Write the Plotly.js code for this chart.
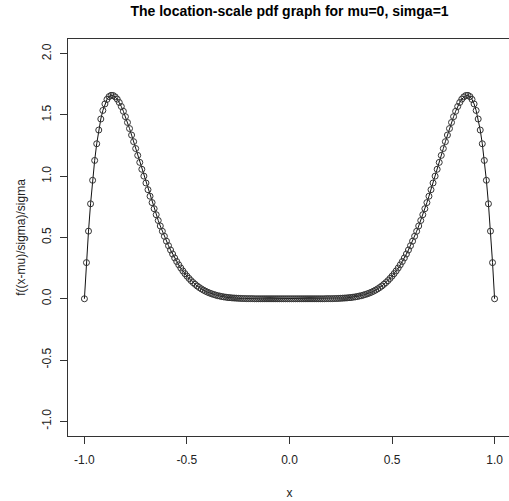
<!DOCTYPE html>
<html>
<head>
<meta charset="utf-8">
<script src="https://cdn.plot.ly/plotly-3.0.1.min.js"></script>
<style>
html,body{margin:0;padding:0;overflow:hidden;background:#fff;}
#chart{width:512px;height:501px;}
</style>
</head>
<body>
<div id="chart"></div>
<script>
var chartTitle = "The location-scale pdf graph for mu=0, simga=1";
var xLabel = "x";
var yLabel = "f((x-mu)/sigma)/sigma";
var xTicks = [-1.0, -0.5, 0.0, 0.5, 1.0];
var xTickText = ["-1.0", "-0.5", "0.0", "0.5", "1.0"];
var yTicks = [-1.0, -0.5, 0.0, 0.5, 1.0, 1.5, 2.0];
var yTickText = ["-1.0", "-0.5", "0.0", "0.5", "1.0", "1.5", "2.0"];

var xValues = [
-1.00,-0.99,-0.98,-0.97,-0.96,-0.95,-0.94,-0.93,-0.92,-0.91,
-0.90,-0.89,-0.88,-0.87,-0.86,-0.85,-0.84,-0.83,-0.82,-0.81,
-0.80,-0.79,-0.78,-0.77,-0.76,-0.75,-0.74,-0.73,-0.72,-0.71,
-0.70,-0.69,-0.68,-0.67,-0.66,-0.65,-0.64,-0.63,-0.62,-0.61,
-0.60,-0.59,-0.58,-0.57,-0.56,-0.55,-0.54,-0.53,-0.52,-0.51,
-0.50,-0.49,-0.48,-0.47,-0.46,-0.45,-0.44,-0.43,-0.42,-0.41,
-0.40,-0.39,-0.38,-0.37,-0.36,-0.35,-0.34,-0.33,-0.32,-0.31,
-0.30,-0.29,-0.28,-0.27,-0.26,-0.25,-0.24,-0.23,-0.22,-0.21,
-0.20,-0.19,-0.18,-0.17,-0.16,-0.15,-0.14,-0.13,-0.12,-0.11,
-0.10,-0.09,-0.08,-0.07,-0.06,-0.05,-0.04,-0.03,-0.02,-0.01,
0.00,0.01,0.02,0.03,0.04,0.05,0.06,0.07,0.08,0.09,
0.10,0.11,0.12,0.13,0.14,0.15,0.16,0.17,0.18,0.19,
0.20,0.21,0.22,0.23,0.24,0.25,0.26,0.27,0.28,0.29,
0.30,0.31,0.32,0.33,0.34,0.35,0.36,0.37,0.38,0.39,
0.40,0.41,0.42,0.43,0.44,0.45,0.46,0.47,0.48,0.49,
0.50,0.51,0.52,0.53,0.54,0.55,0.56,0.57,0.58,0.59,
0.60,0.61,0.62,0.63,0.64,0.65,0.66,0.67,0.68,0.69,
0.70,0.71,0.72,0.73,0.74,0.75,0.76,0.77,0.78,0.79,
0.80,0.81,0.82,0.83,0.84,0.85,0.86,0.87,0.88,0.89,
0.90,0.91,0.92,0.93,0.94,0.95,0.96,0.97,0.98,0.99,
1.00
];

var densityValues = [
0.000,0.295,0.552,0.775,0.967,1.129,1.265,1.377,1.467,1.537,
1.590,1.627,1.650,1.660,1.659,1.648,1.629,1.602,1.569,1.530,
1.486,1.439,1.389,1.336,1.282,1.226,1.170,1.113,1.057,1.001,
0.945,0.890,0.837,0.785,0.735,0.686,0.639,0.594,0.551,0.510,
0.470,0.433,0.398,0.365,0.333,0.304,0.277,0.251,0.227,0.205,
0.185,0.166,0.148,0.132,0.118,0.104,0.092,0.081,0.071,0.062,
0.054,0.047,0.041,0.035,0.030,0.025,0.022,0.018,0.015,0.013,
0.010,0.009,0.007,0.006,0.005,0.004,0.003,0.002,0.002,0.001,
0.001,0.001,0.001,0.000,0.000,0.000,0.000,0.000,0.000,0.000,
0.000,0.000,0.000,0.000,0.000,0.000,0.000,0.000,0.000,0.000,
0.000,0.000,0.000,0.000,0.000,0.000,0.000,0.000,0.000,0.000,
0.000,0.000,0.000,0.000,0.000,0.000,0.000,0.000,0.001,0.001,
0.001,0.001,0.002,0.002,0.003,0.004,0.005,0.006,0.007,0.009,
0.010,0.013,0.015,0.018,0.022,0.025,0.030,0.035,0.041,0.047,
0.054,0.062,0.071,0.081,0.092,0.104,0.118,0.132,0.148,0.166,
0.185,0.205,0.227,0.251,0.277,0.304,0.333,0.365,0.398,0.433,
0.470,0.510,0.551,0.594,0.639,0.686,0.735,0.785,0.837,0.890,
0.945,1.001,1.057,1.113,1.170,1.226,1.282,1.336,1.389,1.439,
1.486,1.530,1.569,1.602,1.629,1.648,1.659,1.660,1.650,1.627,
1.590,1.537,1.467,1.377,1.265,1.129,0.967,0.775,0.552,0.295,
0.000
];

var fontFam = "Liberation Sans, Arial, sans-serif";

var trace = {
  x: xValues,
  y: densityValues,
  type: "scatter",
  mode: "lines+markers",
  line: {color: "#111", width: 1},
  marker: {symbol: "circle-open", size: 6, color: "#333", line: {width: 1}},
  hoverinfo: "x+y",
  showlegend: false
};

var layout = {
  width: 512,
  height: 501,
  margin: {l: 68, r: 1, t: 39, b: 65, pad: 0},
  paper_bgcolor: "#fff",
  plot_bgcolor: "#fff",
  font: {family: fontFam, size: 12, color: "#000"},
  title: {
    text: "<b>" + chartTitle + "</b>",
    font: {family: fontFam, size: 14, color: "#000"},
    x: 0.5, xref: "paper", xanchor: "center",
    y: 0.978, yref: "container", yanchor: "middle"
  },
  xaxis: {
    range: [-1.08, 1.08],
    tickmode: "array",
    tickvals: xTicks,
    ticktext: xTickText,
    ticks: "outside",
    ticklen: 7,
    tickwidth: 1,
    tickcolor: "#333",
    ticklabelstandoff: 6,
    showline: true,
    mirror: true,
    linecolor: "#333",
    linewidth: 1,
    showgrid: false,
    zeroline: false,
    tickfont: {family: fontFam, size: 12, color: "#222"},
    title: {text: xLabel, font: {family: fontFam, size: 12, color: "#222"}, standoff: 22}
  },
  yaxis: {
    range: [-1.12, 2.12],
    tickmode: "array",
    tickvals: yTicks,
    ticktext: yTickText,
    tickangle: -90,
    ticks: "outside",
    ticklen: 7,
    tickwidth: 1,
    tickcolor: "#333",
    ticklabelstandoff: 4,
    showline: true,
    mirror: true,
    linecolor: "#333",
    linewidth: 1,
    showgrid: false,
    zeroline: false,
    automargin: true,
    tickfont: {family: fontFam, size: 12, color: "#222"},
    title: {text: yLabel, font: {family: fontFam, size: 12, color: "#222"}, standoff: 12}
  }
};

Plotly.newPlot("chart", [trace], layout, {staticPlot: true, displayModeBar: false});
</script>
</body>
</html>
